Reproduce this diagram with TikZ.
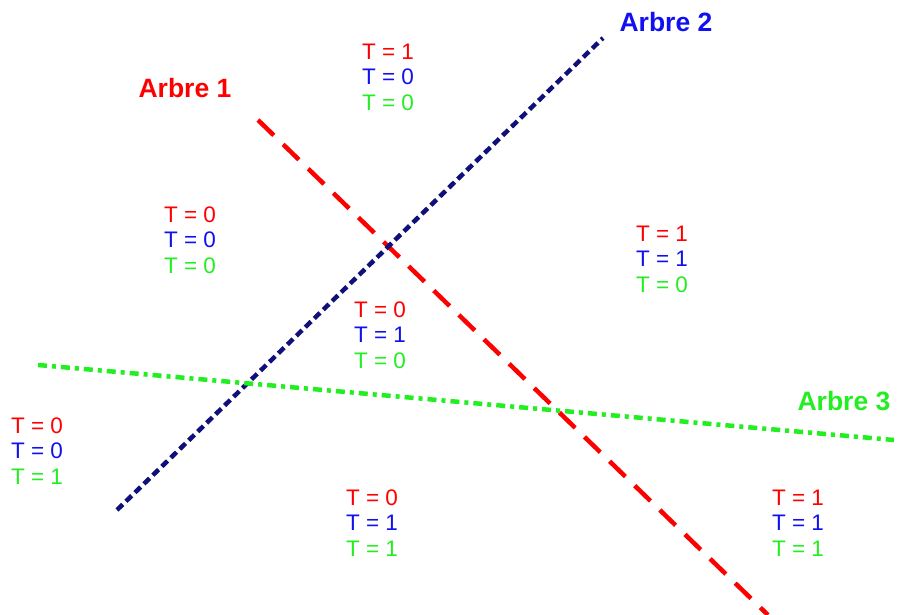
\documentclass[tikz,border=0pt]{standalone}
\usepackage{fontspec}
\setmainfont{Liberation Sans}
\usepackage{tikz}
\definecolor{treered}{HTML}{FF0000}
\definecolor{treeblue}{HTML}{1010F0}
\definecolor{treenavy}{HTML}{10107A}
\definecolor{treegreen}{HTML}{22EE22}
\newcommand{\tv}[3]{\textcolor{treered}{T = #1}\\\textcolor{treeblue}{T = #2}\\\textcolor{treegreen}{T = #3}}

\begin{document}
\begin{tikzpicture}[x=1pt, y=-1pt,
  tree/.style={font=\fontsize{26.5}{30}\selectfont\bfseries, anchor=center},
  tval/.style={font=\fontsize{22.5}{25.5}\selectfont, align=center, inner sep=0pt},
  cut/.style={line width=4.5pt}]
\useasboundingbox (0,0) rectangle (898,615);
% separating lines
\coordinate (r1) at (258,120);
\coordinate (r2) at (768,615);
\coordinate (b1) at (117,510);
\coordinate (b2) at (603,38);
\coordinate (g1) at (38,365);
\coordinate (g2) at (894,440);
\draw[cut, treered, dash pattern=on 22pt off 13pt] (r1) -- (r2);
\draw[cut, treenavy, dash pattern=on 8pt off 4.5pt] (b1) -- (b2);
\draw[cut, treegreen, dash pattern=on 9pt off 5pt on 4pt off 5pt] (g1) -- (g2);
% tree names
\node[tree, text=treered] (a1) at (185,88) {Arbre 1};
\node[tree, text=treeblue] (a2) at (666,22) {Arbre 2};
\node[tree, text=treegreen] (a3) at (844,401) {Arbre 3};
% regions
\node[tval] (t1) at (388,77) {\tv{1}{0}{0}};
\node[tval] (t2) at (190,240) {\tv{0}{0}{0}};
\node[tval] (t3) at (662,259) {\tv{1}{1}{0}};
\node[tval] (t4) at (380,335) {\tv{0}{1}{0}};
\node[tval] (t5) at (37,451) {\tv{0}{0}{1}};
\node[tval] (t6) at (372,523) {\tv{0}{1}{1}};
\node[tval] (t7) at (798,523) {\tv{1}{1}{1}};
\end{tikzpicture}
\end{document}
